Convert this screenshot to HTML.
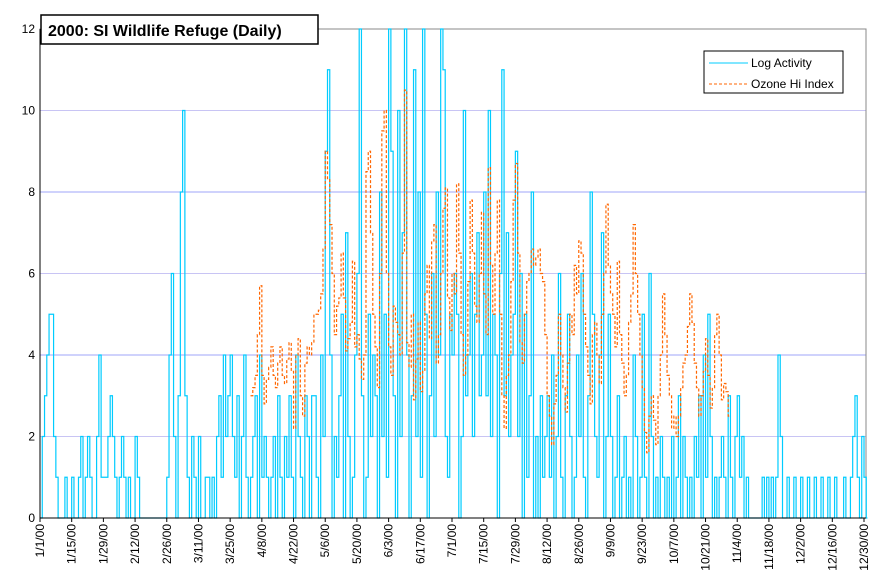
<!DOCTYPE html>
<html><head><meta charset="utf-8"><style>
body{margin:0;background:#fff;}
svg{display:block;font-family:"Liberation Sans",sans-serif;}
</style></head><body>
<svg id="chart" width="890" height="582" viewBox="0 0 890 582" xmlns="http://www.w3.org/2000/svg">
<rect x="0" y="0" width="890" height="582" fill="#fff"/>
<g id="grid"></g>
<rect x="40" y="29" width="826" height="489" fill="none" stroke="#888" stroke-width="1"/>
<g id="series"></g>
<g id="axes"></g>
<g>
<rect x="41" y="15" width="277" height="29" fill="#fff" stroke="#000" stroke-width="1.5"/>
<text x="48" y="36" font-size="16" font-weight="bold" fill="#000">2000: SI Wildlife Refuge (Daily)</text>
</g>
<g>
<rect x="704" y="51" width="139" height="42" fill="#fff" stroke="#000" stroke-width="1"/>
<g>
<line x1="709" y1="63" x2="748" y2="63" stroke="#00ccff" stroke-width="1"/>
<text x="751" y="67" font-size="12" fill="#000">Log Activity</text>
</g>
<g>
<line x1="709" y1="84" x2="748" y2="84" stroke="#ff6600" stroke-width="1" stroke-dasharray="3,2"/>
<text x="751" y="88" font-size="12" fill="#000">Ozone Hi Index</text>
</g>
</g>
</svg>
<script>
const yTicks = [0,2,4,6,8,10,12];
const logActivity = [
0,2,3,4,5,5,2,1,0,0,0,1,0,0,
1,0,0,1,2,0,1,2,1,0,0,2,4,1,
1,1,2,3,2,1,0,1,2,1,0,1,0,0,
2,1,0,0,0,0,0,0,0,0,0,0,0,0,
1,4,6,2,0,3,8,10,3,1,0,2,1,0,
2,0,0,1,1,0,1,0,2,3,1,4,2,3,
4,2,1,3,0,2,4,1,0,1,2,3,0,4,
1,2,1,0,1,2,0,3,1,0,2,1,3,1,
0,4,2,1,0,3,2,0,3,3,1,0,4,2,
9,11,4,0,2,1,3,5,0,7,2,0,1,4,
6,12,3,0,1,5,2,4,3,0,8,2,5,1,
12,9,3,0,10,2,7,12,4,0,3,11,2,8,
1,12,5,0,3,6,2,8,4,12,11,2,1,5,
4,6,5,0,2,10,3,4,6,2,5,7,3,4,
8,3,10,2,5,4,0,6,11,3,7,2,4,5,
9,2,6,0,5,1,3,8,0,2,0,3,1,2,
3,1,4,0,2,6,1,0,3,5,2,0,1,4,
2,6,1,0,3,8,5,2,1,4,7,0,2,5,
2,0,1,3,0,1,2,0,1,0,4,2,0,1,
5,1,0,6,2,0,1,0,2,1,0,1,0,2,
0,1,3,0,2,1,0,1,0,2,1,3,0,4,
1,5,2,0,1,0,1,2,1,0,3,1,0,2,
3,1,2,0,1,0,0,0,0,0,0,1,0,1,
0,1,0,1,4,2,0,0,1,0,0,1,0,0,
1,0,0,1,0,0,1,0,0,1,0,0,1,0,
0,1,0,0,0,1,0,0,1,2,3,1,0,2,
1,0];
const ozoneStartDay = 93;
const ozone = [
3,3.2,3.5,4.5,5.7,
3.5,2.8,3.4,3.7,4.2,3.5,3.2,3.8,4.2,3.5,3.3,3.9,4.3,3.6,
2.2,4.0,4.4,3.0,2.5,3.8,4.2,4.0,4.3,5.0,5.0,5.1,5.5,6.6,
9.0,8.3,7.2,6.0,4.5,5.2,5.4,6.5,5.4,4.1,4.4,4.8,6.3,4.2,
4.5,3.9,3.4,4.0,8.5,9.0,7.0,5.0,4.2,3.2,6.0,9.5,10.0,6.0,
4.2,3.5,5.2,4.8,4.5,4.0,6.5,10.5,4.3,3.7,5.0,2.9,3.9,4.8,
3.1,3.6,5.5,6.2,4.4,6.8,7.2,3.8,4.5,6.0,7.6,8.1,5.4,4.6,
6.0,5.5,8.2,6.5,4.5,3.5,4.0,5.8,7.8,6.5,5.2,4.8,6.0,7.5,
5.5,4.5,8.6,6.2,5.0,6.5,7.8,5.0,3.0,2.2,3.5,4.0,5.8,7.8,
8.7,6.5,4.3,3.8,5.0,5.8,6.0,6.6,6.2,6.4,6.6,6.0,5.8,4.5,
3.0,2.5,1.8,2.8,3.5,5.0,4.0,3.2,2.6,3.8,5.0,4.5,6.2,5.5,
6.8,6.5,5.0,4.2,3.5,2.8,4.5,4.8,4.0,3.3,5.0,6.0,7.7,6.2,
5.5,5.0,4.2,6.3,4.5,3.8,3.0,3.5,4.8,5.5,7.2,6.0,5.0,4.0,
3.2,2.1,1.6,2.5,3.0,2.4,1.8,3.0,4.0,5.5,4.5,3.5,3.0,2.2,
2.5,2.0,2.5,3.2,3.8,4.0,4.7,5.5,4.8,3.8,3.2,2.5,3.0,3.6,
4.4,3.5,2.7,3.2,4.5,5.0,4.0,2.9,3.3,3.1,2.5];
const tickEvery = 14;
const NS = "http://www.w3.org/2000/svg";
const X0 = 40, X1 = 864, Y0 = 518, Y1 = 29, DAYS = 364, YMAX = 12;
function xs(d){ return X0 + d*(X1-X0)/DAYS; }
function ys(v){ return Y0 - v*(Y0-Y1)/YMAX; }
function mk(tag, attrs, parent){
  const e = document.createElementNS(NS, tag);
  for (const k in attrs) e.setAttribute(k, attrs[k]);
  parent.appendChild(e); return e;
}
const grid = document.getElementById('grid');
const axes = document.getElementById('axes');
const series = document.getElementById('series');
yTicks.forEach(v=>{
  if (v>0){
    const gl = mk('line',{x1:X0,x2:866,y1:ys(v),y2:ys(v),stroke:(v%4===0?'#9fa6f8':'#c8c4f4'),'stroke-width':1},grid);
    
    
  }
  const t = mk('text',{x:X0-5,y:ys(v)+4,'text-anchor':'end','font-size':12,fill:'#000'},axes);
  t.textContent = v;
  
  
});
const ax = mk('line',{x1:X0,x2:X0,y1:Y1,y2:Y0,stroke:'#000','stroke-width':1},axes);


const bx = mk('line',{x1:X0,x2:866,y1:Y0,y2:Y0,stroke:'#000','stroke-width':1},axes);


for (let d=0; d<=DAYS; d+=tickEvery){
  const x = xs(d);
  const tk = mk('line',{x1:x,x2:x,y1:Y0,y2:Y0+4,stroke:'#000'},axes);
  
  
  const dt = new Date(2000,0,1+d);
  const lab = (dt.getMonth()+1)+'/'+dt.getDate()+'/00';
  const t = mk('text',{x:0,y:0,'text-anchor':'end','font-size':12,fill:'#000',transform:'translate('+(x+4)+','+(Y0+6)+') rotate(-90)'},axes);
  t.textContent = lab;
  
  
}
function stepPath(vals, start){
  let s = '';
  vals.forEach((v,i)=>{
    const x = xs(start+i), y = ys(v);
    if (i===0) s += 'M'+x.toFixed(2)+','+y.toFixed(2);
    else s += 'L'+x.toFixed(2)+','+ys(vals[i-1]).toFixed(2)+'L'+x.toFixed(2)+','+y.toFixed(2);
    s += 'L'+(x+ (X1-X0)/DAYS*0.5).toFixed(2)+','+y.toFixed(2);
  });
  return s;
}
const l1 = mk('path',{d:stepPath(logActivity,0),fill:'none',stroke:'#00ccff','stroke-width':1.2},series);


const l2 = mk('path',{d:stepPath(ozone,ozoneStartDay),fill:'none',stroke:'#ff6600','stroke-width':1.2,'stroke-dasharray':'3,2'},series);


</script>
</body></html>
